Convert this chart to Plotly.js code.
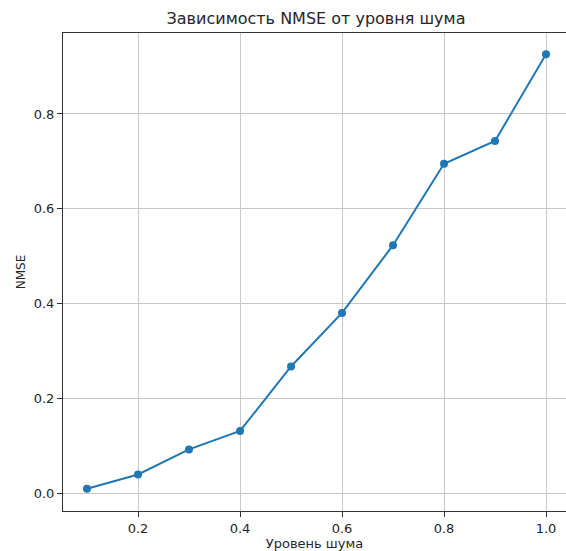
<!DOCTYPE html>
<html>
<head>
<meta charset="utf-8">
<script src="https://cdn.plot.ly/plotly-3.0.1.min.js"></script>
<style>html,body{margin:0;padding:0;background:#fff;}#chart{width:566px;height:551px;}</style>
</head>
<body>
<div id="chart"></div>
<script>
const noiseLevels = [0.1, 0.2, 0.3, 0.4, 0.5, 0.6, 0.7, 0.8, 0.9, 1.0];
const nmseValues = [0.009, 0.039, 0.092, 0.131, 0.267, 0.380, 0.523, 0.695, 0.743, 0.926];
const xTickVals = [0.2, 0.4, 0.6, 0.8, 1.0];
const xTickText = ["0.2", "0.4", "0.6", "0.8", "1.0"];
const yTickVals = [0.0, 0.2, 0.4, 0.6, 0.8];
const yTickText = ["0.0", "0.2", "0.4", "0.6", "0.8"];

const font = "DejaVu Sans, sans-serif";
const trace = {
  x: noiseLevels,
  y: nmseValues,
  type: "scatter",
  mode: "lines+markers",
  line: {color: "#1f77b4", width: 2},
  marker: {color: "#1f77b4", size: 8},
  hoverinfo: "skip",
  cliponaxis: false
};
const layout = {
  width: 566,
  height: 551,
  margin: {l: 63, r: 0, t: 33, b: 40},
  paper_bgcolor: "#ffffff",
  plot_bgcolor: "#ffffff",
  showlegend: false,
  font: {family: font, size: 13, color: "#262626"},
  title: {
    text: "Зависимость NMSE от уровня шума",
    font: {family: font, size: 16, color: "#262626"},
    xref: "paper", x: 0.503, xanchor: "center",
    yref: "container", y: 1 - 18/551, yanchor: "middle"
  },
  xaxis: {
    range: [0.0529, 1.0392],
    tickvals: xTickVals,
    ticktext: xTickText,
    ticks: "outside", ticklen: 5, tickwidth: 1, tickcolor: "#333",
    showgrid: true, gridcolor: "#c8c8c8", gridwidth: 1,
    zeroline: false,
    showline: true, linecolor: "#333", linewidth: 1, mirror: true,
    tickfont: {family: font, size: 13, color: "#262626"},
    title: {text: "Уровень шума", font: {family: font, size: 13, color: "#262626"}, standoff: 6}
  },
  yaxis: {
    range: [-0.038, 0.9709],
    tickvals: yTickVals,
    ticktext: yTickText,
    ticks: "outside", ticklen: 5, tickwidth: 1, tickcolor: "#333",
    showgrid: true, gridcolor: "#c8c8c8", gridwidth: 1,
    zeroline: false,
    showline: true, linecolor: "#333", linewidth: 1, mirror: false,
    tickfont: {family: font, size: 13, color: "#262626"},
    title: {text: "NMSE", font: {family: font, size: 12, color: "#262626"}, standoff: 5}
  }
};
Plotly.newPlot("chart", [trace], layout, {displayModeBar: false, staticPlot: true});
</script>
</body>
</html>
